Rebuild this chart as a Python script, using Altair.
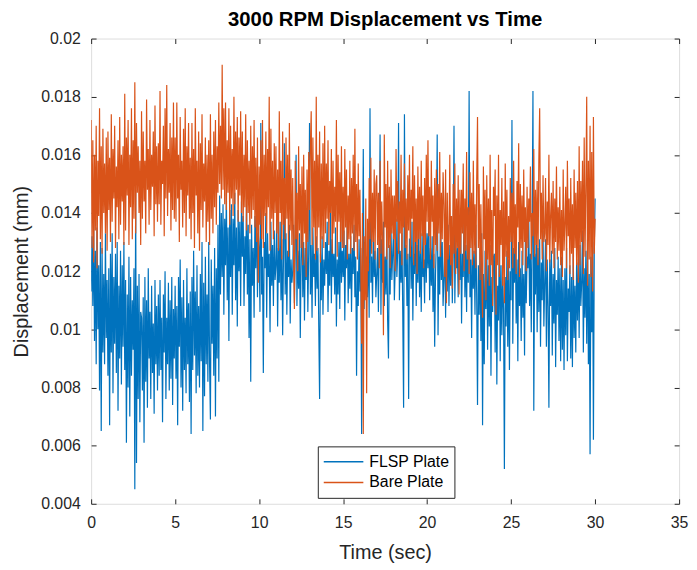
import altair as alt
import pandas as pd

# ---- data: displacement in units of 1e-4 mm, one value every 0.05 s (20 per second) ----
DT = 0.05
flsp_plate = [
    113, 132, 108, 138, 96, 127, 88, 135, 100, 122, 79, 130, 65, 128, 92, 119, 88, 133, 97, 117,
    84, 121, 67, 126, 92, 133, 78, 118, 95, 126, 85, 130, 72, 115, 90, 127, 81, 122, 94, 130,
    86, 117, 61, 112, 80, 125, 70, 118, 84, 110, 93, 121, 45, 148, 54, 115, 76, 119, 68, 106,
    104, 79, 111, 61, 118, 82, 110, 73, 121, 90, 106, 76, 115, 85, 102, 71, 117, 88, 108, 79,
    112, 84, 117, 86, 104, 68, 112, 92, 120, 76, 104, 88, 116, 79, 110, 83, 118, 74, 107, 90,
    115, 83, 108, 67, 118, 94, 124, 80, 111, 72, 117, 86, 104, 78, 121, 88, 109, 75, 113, 64,
    118, 86, 127, 91, 113, 78, 122, 84, 108, 80, 119, 89, 130, 65, 116, 77, 125, 88, 112, 82,
    130, 88, 69, 124, 95, 115, 84, 128, 70, 121, 90, 136, 82, 146, 112, 140, 118, 143, 105, 138,
    122, 147, 110, 135, 96, 141, 118, 143, 105, 138, 122, 147, 110, 135, 101, 141, 120, 137, 108, 144,
    125, 139, 108, 132, 119, 145, 112, 136, 97, 131, 82, 136, 115, 128, 104, 139, 121, 145, 111, 133,
    128, 106, 171, 112, 125, 85, 130, 121, 140, 104, 133, 118, 126, 99, 137, 115, 129, 108, 134, 117,
    122, 139, 101, 128, 116, 137, 110, 131, 98, 125, 164, 112, 133, 105, 127, 118, 136, 102, 124, 116,
    120, 136, 109, 127, 160, 108, 127, 114, 133, 97, 124, 138, 111, 130, 103, 128, 117, 135, 106, 126,
    171, 112, 129, 104, 135, 118, 126, 108, 132, 114, 128, 101, 76, 126, 110, 132, 105, 124, 115, 130,
    119, 137, 106, 127, 115, 140, 109, 131, 118, 126, 112, 135, 101, 124, 112, 130, 107, 138, 116, 127,
    118, 134, 103, 129, 121, 138, 109, 126, 114, 132, 106, 128, 119, 136, 111, 125, 84, 120, 108, 131,
    113, 128, 64, 118, 162, 107, 130, 118, 125, 111, 133, 104, 176, 116, 125, 109, 133, 118, 127, 111,
    119, 128, 106, 131, 167, 105, 131, 116, 137, 108, 125, 112, 134, 103, 90, 129, 112, 135, 117, 126,
    134, 110, 121, 138, 118, 127, 171, 110, 127, 116, 133, 105, 73, 174, 118, 129, 108, 126, 76, 131,
    131, 114, 137, 103, 126, 119, 140, 108, 129, 116, 135, 111, 127, 106, 133, 118, 124, 109, 138, 116,
    133, 121, 137, 110, 128, 115, 132, 106, 126, 94, 119, 131, 167, 98, 125, 112, 139, 117, 130, 108,
    117, 132, 104, 127, 113, 136, 108, 129, 115, 134, 109, 126, 170, 109, 130, 121, 128, 111, 135, 117,
    135, 102, 126, 118, 139, 111, 129, 106, 133, 116, 182, 111, 124, 97, 131, 114, 127, 105, 136, 112,
    74, 122, 105, 128, 96, 133, 67, 119, 88, 127, 107, 131, 93, 122, 101, 129, 84, 118, 106, 125,
    126, 92, 131, 81, 115, 103, 135, 89, 122, 98, 118, 107, 52, 118, 101, 127, 94, 124, 86, 120,
    110, 172, 95, 128, 116, 133, 102, 124, 89, 130, 108, 121, 96, 127, 104, 119, 91, 132, 109, 125,
    121, 138, 108, 126, 99, 133, 182, 72, 126, 112, 135, 99, 128, 106, 131, 94, 123, 110, 134, 101,
    116, 131, 94, 124, 108, 73, 124, 108, 127, 91, 119, 102, 128, 87, 117, 105, 125, 96, 121, 89,
    125, 93, 117, 86, 121, 98, 128, 89, 114, 106, 122, 90, 118, 87, 126, 97, 115, 92, 124, 103,
    123, 97, 129, 108, 116, 134, 92, 121, 104, 127, 95, 131, 88, 119, 57, 125, 99, 130, 62, 128,
    145,
]
bare_plate = [
    172, 128, 165, 123, 160, 134, 170, 121, 158, 139, 176, 131, 163, 126, 169, 140, 157, 133, 166, 127,
    168, 141, 159, 130, 174, 137, 162, 145, 170, 128, 156, 142, 165, 131, 173, 136, 160, 144, 163, 129,
    181, 134, 166, 146, 172, 129, 160, 142, 176, 131, 165, 138, 185, 133, 171, 147, 163, 140, 158, 129,
    175, 138, 168, 144, 158, 133, 179, 148, 162, 136, 172, 141, 160, 149, 168, 132, 177, 143, 163, 137,
    164, 143, 182, 136, 158, 150, 170, 132, 176, 145, 184, 139, 162, 147, 171, 134, 166, 141, 178, 138,
    166, 137, 178, 145, 160, 130, 173, 148, 158, 135, 169, 140, 176, 132, 163, 146, 171, 138, 159, 131,
    171, 140, 162, 128, 176, 146, 158, 133, 168, 127, 164, 141, 174, 135, 157, 144, 166, 130, 160, 137,
    165, 129, 174, 138, 160, 133, 168, 142, 172, 136, 163, 147, 178, 150, 170, 145, 191, 148, 176, 143,
    178, 141, 165, 147, 176, 136, 170, 145, 162, 139, 180, 143, 168, 148, 173, 137, 166, 146, 175, 140,
    168, 137, 160, 142, 174, 134, 165, 140, 158, 133, 170, 138, 163, 141, 172, 135, 159, 130, 166, 116,
    156, 136, 165, 131, 172, 128, 160, 139, 168, 133, 162, 142, 180, 127, 169, 138, 158, 131, 164, 140,
    163, 133, 155, 127, 175, 140, 158, 124, 168, 136, 152, 131, 166, 138, 160, 125, 171, 134, 155, 129,
    152, 126, 107, 158, 131, 147, 120, 163, 134, 150, 128, 156, 122, 160, 133, 148, 118, 155, 130, 161,
    141, 163, 175, 129, 166, 135, 158, 124, 180, 127, 160, 135, 168, 123, 157, 131, 164, 128, 170, 133,
    157, 138, 165, 129, 151, 140, 162, 126, 158, 133, 149, 137, 172, 125, 160, 137, 154, 130, 163, 128,
    149, 128, 162, 135, 155, 124, 146, 131, 158, 126, 152, 133, 160, 127, 169, 130, 150, 124, 157, 132,
    148, 122, 95, 140, 64, 132, 110, 145, 78, 138, 120, 152, 131, 159, 126, 147, 130, 155, 124, 150,
    153, 129, 147, 121, 158, 126, 144, 130, 98, 167, 135, 150, 124, 158, 128, 149, 121, 155, 133, 146,
    131, 146, 120, 162, 137, 151, 126, 144, 133, 160, 122, 148, 135, 157, 128, 145, 124, 153, 134, 160,
    125, 148, 138, 163, 122, 153, 130, 145, 119, 156, 131, 149, 126, 158, 132, 146, 121, 152, 129, 160,
    137, 165, 132, 149, 124, 158, 137, 146, 121, 152, 129, 155, 127, 150, 133, 161, 125, 147, 131, 154,
    143, 118, 155, 109, 147, 124, 131, 160, 122, 139, 114, 150, 126, 157, 119, 145, 128, 153, 112, 148,
    126, 148, 133, 157, 120, 145, 127, 161, 124, 142, 119, 154, 128, 147, 122, 158, 126, 143, 121, 151,
    173, 128, 150, 117, 143, 121, 104, 156, 131, 148, 110, 153, 124, 145, 115, 160, 122, 141, 108, 149,
    139, 155, 105, 146, 122, 160, 118, 141, 129, 152, 115, 144, 109, 157, 125, 148, 117, 139, 121, 152,
    130, 147, 121, 158, 126, 143, 119, 151, 135, 164, 118, 150, 128, 146, 122, 155, 130, 142, 120, 149,
    128, 145, 137, 156, 124, 140, 132, 162, 125, 148, 129, 151, 122, 158, 176, 131, 147, 124, 153, 130,
    133, 152, 120, 144, 129, 160, 123, 139, 147, 126, 151, 121, 145, 130, 156, 124, 142, 127, 149, 122,
    141, 118, 155, 127, 136, 149, 121, 158, 132, 145, 119, 152, 126, 143, 117, 155, 128, 147, 122, 151,
    116, 163, 122, 151, 130, 158, 119, 166, 125, 148, 180, 115, 158, 124, 170, 118, 161, 113, 173, 126,
    138,
]
series_names = ["FLSP Plate", "Bare Plate"]
series_colors = ["#0072BD", "#D95319"]
x_ticks = [0, 5, 10, 15, 20, 25, 30, 35]
y_ticks = [0.004, 0.006, 0.008, 0.01, 0.012, 0.014, 0.016, 0.018, 0.02]

df_f = pd.DataFrame({"t": [round(i * DT, 2) for i in range(len(flsp_plate))],
                     "v": [v / 10000 for v in flsp_plate], "s": series_names[0]})
df_b = pd.DataFrame({"t": [round(i * DT, 2) for i in range(len(bare_plate))],
                     "v": [v / 10000 for v in bare_plate], "s": series_names[1]})

W, H = 594, 470
FONT = "Liberation Sans"
AX = "#262626"

xs = alt.Scale(domain=[0, 35], nice=False, zero=False)
ys = alt.Scale(domain=[0.004, 0.02], nice=False, zero=False)

legend = alt.Legend(
    title=None, orient="none", legendX=229, legendY=412,
    symbolType="stroke", symbolSize=1600, symbolStrokeWidth=1.5, clipHeight=21,
    labelOffset=5, padding=5, rowPadding=0,
    strokeColor=AX, fillColor="white",
    labelFont=FONT, labelFontSize=16, labelColor="#000",
)
color = alt.Color("s:N", scale=alt.Scale(domain=series_names, range=series_colors), legend=legend)


def ax(orient, values, labels, offset=0, title=None, fmt=None, lpad=11, tpad=10):
    kw = dict(orient=orient, values=values, grid=False, domain=False,
              tickColor=AX, tickWidth=1, labelColor=AX, labelFont=FONT, labelFontSize=16,
              labelFlush=False, labelOverlap=False,
              titleFont=FONT, titleFontSize=20, titleColor=AX, titleFontWeight="normal",
              title=title, offset=offset)
    if labels:
        kw.update(labels=True, ticks=False, tickSize=0, labelPadding=lpad, titlePadding=tpad)
    else:
        kw.update(labels=False, ticks=True, tickSize=5)
    if fmt:
        kw["format"] = fmt
    return alt.Axis(**kw)


blue = alt.Chart(df_f).mark_line(strokeWidth=1.2, clip=True).encode(
    x=alt.X("t:Q", scale=xs, axis=ax("bottom", x_ticks, True, title="Time (sec)", lpad=11, tpad=12)),
    y=alt.Y("v:Q", scale=ys, axis=ax("left", y_ticks, True, title="Displacement (mm)",
                                     fmt=".3~f", lpad=11, tpad=9)),
    color=color,
)
orange = alt.Chart(df_b).mark_line(strokeWidth=1.2, clip=True).encode(
    x=alt.X("t:Q", scale=xs, axis=ax("top", x_ticks, False, offset=-H)),
    y=alt.Y("v:Q", scale=ys, axis=ax("right", y_ticks, False, offset=-W)),
    color=color,
)
frame = alt.Chart(df_b).mark_line(strokeWidth=1, opacity=0).encode(
    x=alt.X("t:Q", scale=xs, axis=ax("bottom", x_ticks, False, offset=-H)),
    y=alt.Y("v:Q", scale=ys, axis=ax("left", y_ticks, False, offset=-W)),
    color=color,
)

chart = alt.layer(blue, orange, frame).resolve_axis(x="independent", y="independent").properties(
    width=W, height=H,
    title=alt.TitleParams("3000 RPM Displacement vs Time", font=FONT, fontSize=20.5,
                          fontWeight="bold", color="#000", anchor="middle", offset=0),
    padding={"left": 84, "top": 28, "right": 10, "bottom": 62},
    autosize=alt.AutoSizeParams(type="none"),
).configure_view(stroke=AX, strokeWidth=1).configure(background="white")

chart.save("out.html", embed_options={"renderer": "svg", "actions": False})
